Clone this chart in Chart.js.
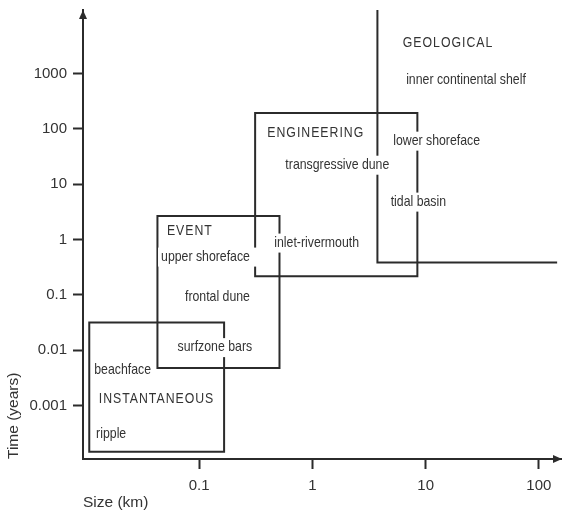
<!DOCTYPE html>
<html>
<head>
<meta charset="utf-8">
<script src="https://cdn.jsdelivr.net/npm/chart.js@4.4.1/dist/chart.umd.min.js"></script>
<style>
  html, body { margin: 0; padding: 0; background: #ffffff; }
  #wrap { width: 562px; height: 516px; }
</style>
</head>
<body>
<div id="wrap"><canvas id="c" width="562" height="516"></canvas></div>
<script>
// ---------- data ----------
const boxNames = ['INSTANTANEOUS', 'EVENT', 'ENGINEERING'];
const boxXMin = [0.0107, 0.0428, 0.312];
const boxXMax = [0.166, 0.512, 8.45];
const boxYMin = [0.000148, 0.0048, 0.218];
const boxYMax = [0.0318, 2.68, 194];

// GEOLOGICAL domain is open: vertical edge at geoX from the top, horizontal edge at geoY to geoXMax
const geoX = 3.75;
const geoY = 0.385;
const geoXMax = 142;

const xMin = 0.00942, xMax = 160;
const yMin = 0.000109, yMax = 14000;

const xTickValues = [0.1, 1, 10, 100];
const xTickLabels = ['0.1', '1', '10', '100'];
const yTickValues = [0.001, 0.01, 0.1, 1, 10, 100, 1000];
const yTickLabels = ['0.001', '0.01', '0.1', '1', '10', '100', '1000'];

const labelTexts = ['GEOLOGICAL', 'inner continental shelf', 'ENGINEERING', 'lower shoreface',
  'transgressive dune', 'tidal basin', 'inlet-rivermouth', 'EVENT', 'upper shoreface',
  'frontal dune', 'surfzone bars', 'beachface', 'INSTANTANEOUS', 'ripple'];
const labelX = [15.6, 22.7, 1.06, 12.5, 1.66, 8.62, 1.09, 0.0819, 0.1137, 0.145, 0.1376, 0.0211, 0.0416, 0.0167];
const labelY = [3600, 780, 83.3, 61.2, 22.5, 4.85, 0.883, 1.45, 0.493, 0.0912, 0.01143, 0.00445, 0.001315, 0.000311];

// ---------- styles ----------
const INK = '#2b2b2b';
const TEXT = '#333333';

// detect narrow font
const mc = document.createElement('canvas').getContext('2d');
mc.font = '15px monospace';
const wMono = mc.measureText('inner continental shelf').width;
mc.font = '15px "Liberation Sans Narrow", monospace';
const wNarrow = mc.measureText('inner continental shelf').width;
const hasNarrow = Math.abs(wMono - wNarrow) > 0.5;

const datasets = boxNames.map((n, i) => ({
  label: n,
  data: [
    { x: boxXMin[i], y: boxYMin[i] },
    { x: boxXMin[i], y: boxYMax[i] },
    { x: boxXMax[i], y: boxYMax[i] },
    { x: boxXMax[i], y: boxYMin[i] },
    { x: boxXMin[i], y: boxYMin[i] }
  ]
}));
datasets.push({
  label: 'GEOLOGICAL',
  data: [
    { x: geoX, y: yMax },
    { x: geoX, y: geoY },
    { x: geoXMax, y: geoY }
  ]
});
datasets.forEach(d => {
  d.showLine = true;
  d.borderColor = INK;
  d.borderWidth = 2;
  d.pointRadius = 0;
  d.fill = false;
  d.tension = 0;
  d.borderJoinStyle = 'miter';
  d.borderCapStyle = 'square';
});

const extraPad = { 'upper shoreface': 9 };

const labelPlugin = {
  id: 'labels',
  afterDatasetsDraw(chart) {
    const ctx = chart.ctx;
    const xs = chart.scales.x, ys = chart.scales.y;
    ctx.save();
    labelTexts.forEach((t, i) => {
      const px = xs.getPixelForValue(labelX[i]);
      const py = ys.getPixelForValue(labelY[i]);
      const caps = t === t.toUpperCase();
      const size = 15;
      ctx.font = size + (hasNarrow ? 'px "Liberation Sans Narrow"' : 'px "Liberation Sans"');
      ctx.letterSpacing = caps ? '1.2px' : '0px';
      const sx = hasNarrow ? 1 : 0.82;
      let w = ctx.measureText(t).width * sx;
      if (caps) w -= 1.2 * sx;
      const pad = 3, padR = extraPad[t] !== undefined ? extraPad[t] : pad;
      ctx.fillStyle = '#ffffff';
      ctx.fillRect(px - w / 2 - pad, py - 9, w + pad + padR, 19);
      ctx.fillStyle = TEXT;
      ctx.textAlign = 'left';
      ctx.textBaseline = 'middle';
      ctx.save();
      ctx.translate(px - w / 2, py);
      ctx.scale(sx, 1);
      ctx.fillText(t, 0, 0);
      ctx.restore();
    });
    ctx.restore();
  },
  afterDraw(chart) {
    const ctx = chart.ctx;
    const a = chart.chartArea;
    ctx.save();
    ctx.fillStyle = INK;
    ctx.beginPath();
    ctx.moveTo(a.left, a.top);
    ctx.lineTo(a.left - 4, a.top + 9);
    ctx.lineTo(a.left + 4, a.top + 9);
    ctx.closePath();
    ctx.fill();
    ctx.beginPath();
    ctx.moveTo(a.right, a.bottom);
    ctx.lineTo(a.right - 9, a.bottom - 4);
    ctx.lineTo(a.right - 9, a.bottom + 4);
    ctx.closePath();
    ctx.fill();
    ctx.restore();
  }
};

const tickFont = { family: '"Liberation Sans", Arial, sans-serif', size: 15 };
const yTickFont = { family: '"Liberation Sans", Arial, sans-serif', size: 15, lineHeight: 0.4 };
const titleFont = { family: '"Liberation Sans", Arial, sans-serif', size: 15.5 };

new Chart(document.getElementById('c'), {
  type: 'scatter',
  data: { datasets },
  plugins: [labelPlugin],
  options: {
    responsive: false,
    animation: false,
    devicePixelRatio: 1,
    layout: { padding: { top: 10, right: 0, left: 0, bottom: 0 } },
    plugins: { legend: { display: false }, tooltip: { enabled: false } },
    scales: {
      x: {
        type: 'logarithmic',
        position: 'bottom',
        min: xMin, max: xMax,
        border: { display: true, color: INK, width: 2 },
        grid: { display: true, drawOnChartArea: false, drawTicks: true, tickLength: 10, tickWidth: 2, tickColor: INK },
        afterBuildTicks: s => { s.ticks = xTickValues.map(v => ({ value: v })); },
        afterFit: s => { s.height = 57; },
        ticks: {
          font: tickFont, color: TEXT, padding: 8, maxRotation: 0, autoSkip: false,
          callback: (v) => { const k = xTickValues.indexOf(v); return k >= 0 ? xTickLabels[k] : ''; }
        },
        title: { display: true, text: 'Size (km)', align: 'start', font: titleFont, color: TEXT, padding: { top: 4, bottom: 4 } }
      },
      y: {
        type: 'logarithmic',
        position: 'left',
        min: yMin, max: yMax,
        border: { display: true, color: INK, width: 2 },
        grid: { display: true, drawOnChartArea: false, drawTicks: true, tickLength: 10, tickWidth: 2, tickColor: INK },
        afterBuildTicks: s => { s.ticks = yTickValues.map(v => ({ value: v })); },
        afterFit: s => { s.width = 83; },
        ticks: {
          font: yTickFont, color: TEXT, padding: 6, autoSkip: false,
          callback: (v) => { const k = yTickValues.indexOf(v); return k >= 0 ? yTickLabels[k] : ''; }
        },
        title: { display: true, text: 'Time (years)', align: 'start', font: titleFont, color: TEXT, padding: { top: 4, bottom: 4 } }
      }
    }
  }
});
</script>
</body>
</html>
